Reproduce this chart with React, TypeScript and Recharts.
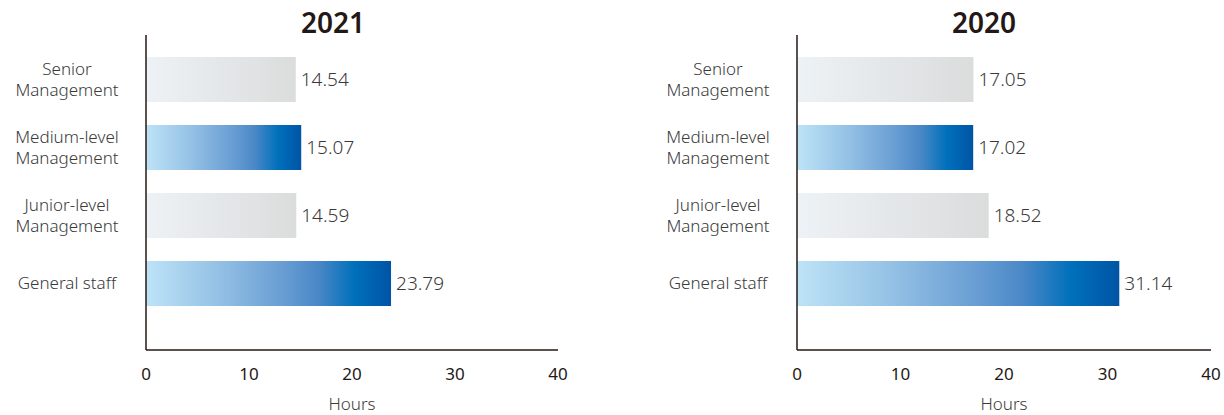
import React from 'react';
import { BarChart, Bar, XAxis, YAxis, Cell, LabelList } from 'recharts';

const categories = ['Senior Management', 'Medium-level Management', 'Junior-level Management', 'General staff'];
const hours2021 = [14.54, 15.07, 14.59, 23.79];
const hours2020 = [17.05, 17.02, 18.52, 31.14];
const xTicks = [0, 10, 20, 30, 40];

// category label lines
const labelLines: Record<string, string[]> = {
  'Senior Management': ['Senior', 'Management'],
  'Medium-level Management': ['Medium-level', 'Management'],
  'Junior-level Management': ['Junior-level', 'Management'],
  'General staff': ['General staff'],
};

const FONT = '"Noto Sans", sans-serif';
const INK = '#231815';
const TEXT = '#3a3a3a';

const CategoryTick = (props: any) => {
  const { x, y, payload } = props;
  const lines = labelLines[payload.value] || [payload.value];
  const lh = 21;
  const start = y - ((lines.length - 1) * lh) / 2;
  return (
    <text x={x - 77} y={start} textAnchor="middle" fontSize={17} fontWeight={300} fill={TEXT} fontFamily={FONT}>
      {lines.map((l, i) => (
        <tspan key={i} x={x - 77} y={start + i * lh} dy="0.36em">{l}</tspan>
      ))}
    </text>
  );
};

const Gradients = ({ id }: { id: string }) => (
  <defs>
    <linearGradient id={`blue-${id}`} x1="0" y1="0" x2="1" y2="0">
      <stop offset="0%" stopColor="#bde3f7" />
      <stop offset="30%" stopColor="#93c0e4" />
      <stop offset="55%" stopColor="#6a9fd4" />
      <stop offset="70%" stopColor="#4b88c7" />
      <stop offset="85%" stopColor="#0070bb" />
      <stop offset="100%" stopColor="#0054a5" />
    </linearGradient>
    <linearGradient id={`grey-${id}`} x1="0" y1="0" x2="1" y2="0">
      <stop offset="0%" stopColor="#edf2f6" />
      <stop offset="100%" stopColor="#dbdcdc" />
    </linearGradient>
  </defs>
);

interface YearChartProps {
  id: string;
  title: string;
  values: number[];
  left: number;
  right: number;
}

const YearChart: React.FC<YearChartProps> = ({ id, title, values, left, right }) => {
  const data = categories.map((c, i) => ({ name: c, value: values[i] }));
  return (
    <BarChart
      width={612}
      height={415}
      data={data}
      layout="vertical"
      margin={{ top: 35, right, bottom: 0, left }}
    >
      <Gradients id={id} />
      <XAxis
        type="number"
        domain={[0, 40]}
        ticks={xTicks}
        height={65}
        tickLine={false}
        tickSize={0}
        tickMargin={18}
        axisLine={{ stroke: INK, strokeWidth: 1.5 }}
        tick={{ fontSize: 17, fill: INK, fontFamily: FONT }}
        label={{ value: 'Hours', position: 'insideBottom', offset: 5, fontSize: 17, fontWeight: 300, fill: TEXT, fontFamily: FONT }}
      />
      <YAxis
        type="category"
        dataKey="name"
        width={146}
        tickLine={false}
        tickSize={0}
        padding={{ top: 10, bottom: 33 }}
        axisLine={{ stroke: INK, strokeWidth: 1.5 }}
        tick={<CategoryTick />}
      />
      <Bar dataKey="value" barSize={45} isAnimationActive={false}>
        {data.map((d, i) => (
          <Cell key={d.name} fill={i % 2 === 0 ? `url(#grey-${id})` : `url(#blue-${id})`} />
        ))}
        <LabelList dataKey="value" position="right" offset={5} fontSize={19} fontWeight={300} fill={TEXT} fontFamily={FONT} formatter={(v: any) => Number(v).toFixed(2)} />
      </Bar>
      <text x={left + 146 + 187} y={25} textAnchor="middle" dominantBaseline="middle" fontSize={28} fontWeight={600} fill={INK} fontFamily={FONT}>
        {title}
      </text>
    </BarChart>
  );
};

export default function App() {
  return (
    <div style={{ position: 'absolute', left: 0, top: 0, width: 1224, height: 415, background: '#fff', display: 'flex' }}>
      <YearChart id="y2021" title="2021" values={hours2021} left={0} right={54} />
      <YearChart id="y2020" title="2020" values={hours2020} left={39} right={13} />
    </div>
  );
}
